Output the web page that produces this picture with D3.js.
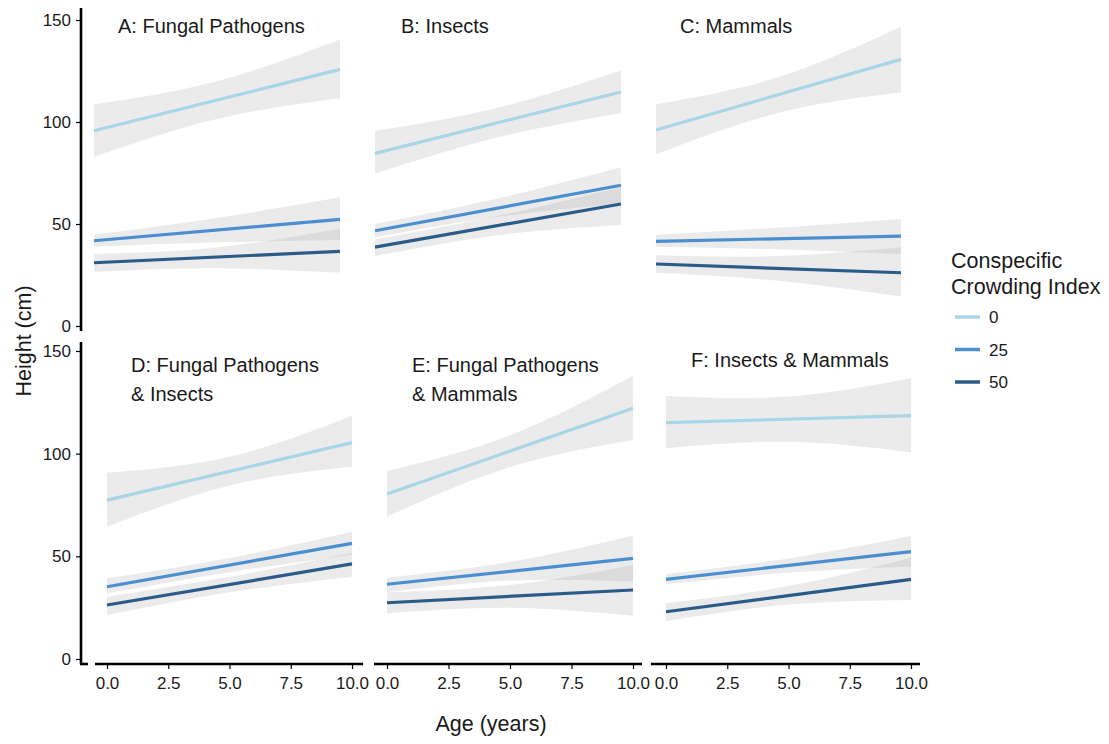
<!DOCTYPE html>
<html>
<head>
<meta charset="utf-8">
<script src="https://cdn.jsdelivr.net/npm/d3@7"></script>
<style>
  html, body { margin: 0; padding: 0; background: #fff; }
  svg { display: block; font-family: "Liberation Sans", Arial, sans-serif; }
</style>
</head>
<body>
<svg id="chart" width="1109" height="744"></svg>
<script>
// ---------------- data ----------------
const crowdingLevels = ["0", "25", "50"];
const fitAges = [0, 10];          // fitted line end points (years)
const bandAges = [0, 5, 10];      // confidence band knots (years)
const xTicks = [0, 2.5, 5, 7.5, 10];
const yTicks = [0, 50, 100, 150];

const panelTitles = [
  ["A: Fungal Pathogens"],
  ["B: Insects"],
  ["C: Mammals"],
  ["D: Fungal Pathogens", "& Insects"],
  ["E: Fungal Pathogens", "& Mammals"],
  ["F: Insects & Mammals"]
];

// fitted heights at age 0 and 10 for crowding 0, 25, 50
const panelA_fit = [[95.7, 125.8], [41.8, 52.3], [31.0, 36.6]];
const panelB_fit = [[84.6, 114.7], [46.7, 69.0], [38.7, 59.8]];
const panelC_fit = [[96.1, 130.7], [41.5, 44.1], [30.4, 26.1]];
const panelD_fit = [[77.4, 105.4], [35.2, 56.3], [26.3, 46.3]];
const panelE_fit = [[80.4, 122.1], [36.4, 49.0], [27.4, 33.6]];
const panelF_fit = [[115.1, 118.5], [38.8, 52.3], [23.0, 38.8]];

// lower confidence limits at ages 0, 5, 10
const panelA_lower = [[83.0, 101.5, 111.6], [38.9, 41.0, 42.2], [26.6, 28.3, 26.1]];
const panelB_lower = [[74.8, 92.5, 104.3], [43.5, 53.5, 60.0], [34.3, 44.5, 49.5]];
const panelC_lower = [[84.2, 104.5, 114.4], [38.9, 37.6, 35.3], [26.1, 22.2, 14.4]];
const panelD_lower = [[64.4, 84.5, 93.7], [32.0, 42.3, 50.8], [21.4, 32.5, 40.1]];
const panelE_lower = [[69.3, 93.5, 106.7], [32.5, 38.2, 37.7], [22.3, 25.0, 21.1]];
const panelF_lower = [[102.6, 105.8, 100.7], [36.4, 42.0, 45.0], [18.5, 26.5, 28.7]];

// upper confidence limits at ages 0, 5, 10
const panelA_upper = [[108.7, 120.0, 140.5], [44.9, 53.0, 63.1], [35.3, 38.5, 47.7]];
const panelB_upper = [[95.6, 107.0, 125.2], [50.0, 62.5, 77.8], [42.5, 54.0, 68.0]];
const panelC_upper = [[108.7, 122.0, 146.7], [44.6, 48.2, 52.5], [34.7, 34.3, 38.6]];
const panelD_upper = [[90.7, 98.5, 118.5], [39.3, 49.2, 62.0], [30.3, 40.0, 51.8]];
const panelE_upper = [[91.6, 109.0, 138.0], [39.6, 47.2, 60.1], [32.5, 36.0, 45.8]];
const panelF_upper = [[128.1, 127.8, 136.7], [41.4, 49.0, 59.9], [27.1, 35.5, 49.3]];

const fits = [panelA_fit, panelB_fit, panelC_fit, panelD_fit, panelE_fit, panelF_fit];
const lowers = [panelA_lower, panelB_lower, panelC_lower, panelD_lower, panelE_lower, panelF_lower];
const uppers = [panelA_upper, panelB_upper, panelC_upper, panelD_upper, panelE_upper, panelF_upper];

// ---------------- layout / style ----------------
const colors = ["#a8d6e6", "#4a8fd0", "#2b5b88"];
const xRanges = [[94, 340], [375, 621], [656, 901], [107, 352], [387, 633], [666, 911]];
const rowY = [[326, 20], [659, 351]];
const titlePos = [[118, 33], [401, 33], [680, 33], [131, 372], [412, 372], [691, 367]];
const xAxisSpans = [[95, 363], [374, 642], [651, 920]];

const svg = d3.select("#chart");
const tickColor = "#1a1a1a";

const yScales = rowY.map(r => d3.scaleLinear().domain([0, 150]).range(r));

fits.forEach((fit, p) => {
  const row = p < 3 ? 0 : 1;
  const x = d3.scaleLinear().domain([0, 10]).range(xRanges[p]);
  const y = yScales[row];
  const g = svg.append("g");

  const area = d3.area()
    .x(d => x(d.age)).y0(d => y(d.lo)).y1(d => y(d.hi))
    .curve(d3.curveNatural);
  const line = d3.line().x(d => x(d.age)).y(d => y(d.h));

  crowdingLevels.forEach((lvl, i) => {
    const band = bandAges.map((a, k) => ({ age: a, lo: lowers[p][i][k], hi: uppers[p][i][k] }));
    g.append("path").attr("d", area(band))
      .attr("fill", "#999999").attr("fill-opacity", 0.2);
  });
  crowdingLevels.forEach((lvl, i) => {
    const pts = fitAges.map((a, k) => ({ age: a, h: fit[i][k] }));
    g.append("path").attr("d", line(pts))
      .attr("fill", "none").attr("stroke", colors[i]).attr("stroke-width", 3.2);
  });

  // panel title
  const t = g.append("text").attr("x", titlePos[p][0]).attr("y", titlePos[p][1])
    .attr("font-size", 20).attr("fill", "#1a1a1a");
  panelTitles[p].forEach((s, k) => {
    t.append("tspan").attr("x", titlePos[p][0]).attr("dy", k === 0 ? 0 : 29).text(s);
  });

  // x axis on bottom row
  if (row === 1) {
    const col = p - 3;
    const ax = svg.append("g").attr("transform", "translate(0,664)")
      .call(d3.axisBottom(x).tickValues(xTicks).tickFormat(d3.format(".1f")).tickSize(5).tickPadding(8));
    ax.select(".domain").remove();
    ax.selectAll(".tick line").attr("stroke", "#000").attr("stroke-width", 1.2);
    ax.selectAll(".tick text").attr("font-size", 17).attr("fill", tickColor)
      .attr("font-family", "Liberation Sans, Arial, sans-serif");
    svg.append("line").attr("x1", xAxisSpans[col][0]).attr("x2", xAxisSpans[col][1])
      .attr("y1", 664).attr("y2", 664).attr("stroke", "#000").attr("stroke-width", 2.6);
  }
});

// y axes (left column only)
[[8, 331], [342, 664]].forEach((span, row) => {
  const ay = svg.append("g").attr("transform", "translate(81,0)")
    .call(d3.axisLeft(yScales[row]).tickValues(yTicks).tickSize(5).tickPadding(5));
  ay.select(".domain").remove();
  ay.selectAll(".tick line").attr("stroke", "#000").attr("stroke-width", 1.2);
  ay.selectAll(".tick text").attr("font-size", 17).attr("fill", tickColor)
    .attr("font-family", "Liberation Sans, Arial, sans-serif");
  svg.append("line").attr("x1", 81).attr("x2", 81).attr("y1", span[0]).attr("y2", span[1])
    .attr("stroke", "#000").attr("stroke-width", 2.6);
});
svg.append("line").attr("x1", 80).attr("x2", 88).attr("y1", 664).attr("y2", 664)
  .attr("stroke", "#000").attr("stroke-width", 2.6);

// axis titles
svg.append("text").attr("x", 491).attr("y", 731).attr("text-anchor", "middle")
  .attr("font-size", 21.5).attr("fill", "#1a1a1a").text("Age (years)");
svg.append("text").attr("transform", "translate(31,341) rotate(-90)").attr("text-anchor", "middle")
  .attr("font-size", 21.5).attr("fill", "#1a1a1a").text("Height (cm)");

// legend
const lg = svg.append("g");
lg.append("text").attr("x", 951).attr("y", 268).attr("font-size", 21.5).attr("fill", "#1a1a1a").text("Conspecific");
lg.append("text").attr("x", 951).attr("y", 294).attr("font-size", 21.5).attr("fill", "#1a1a1a").text("Crowding Index");
const legY = d3.scalePoint().domain(crowdingLevels).range([317, 382]);
crowdingLevels.forEach((lvl, i) => {
  lg.append("line").attr("x1", 955).attr("x2", 980).attr("y1", legY(lvl)).attr("y2", legY(lvl))
    .attr("stroke", colors[i]).attr("stroke-width", 3.5);
  lg.append("text").attr("x", 989).attr("y", legY(lvl) + 6).attr("font-size", 17)
    .attr("fill", "#1a1a1a").text(lvl);
});
</script>
</body>
</html>
